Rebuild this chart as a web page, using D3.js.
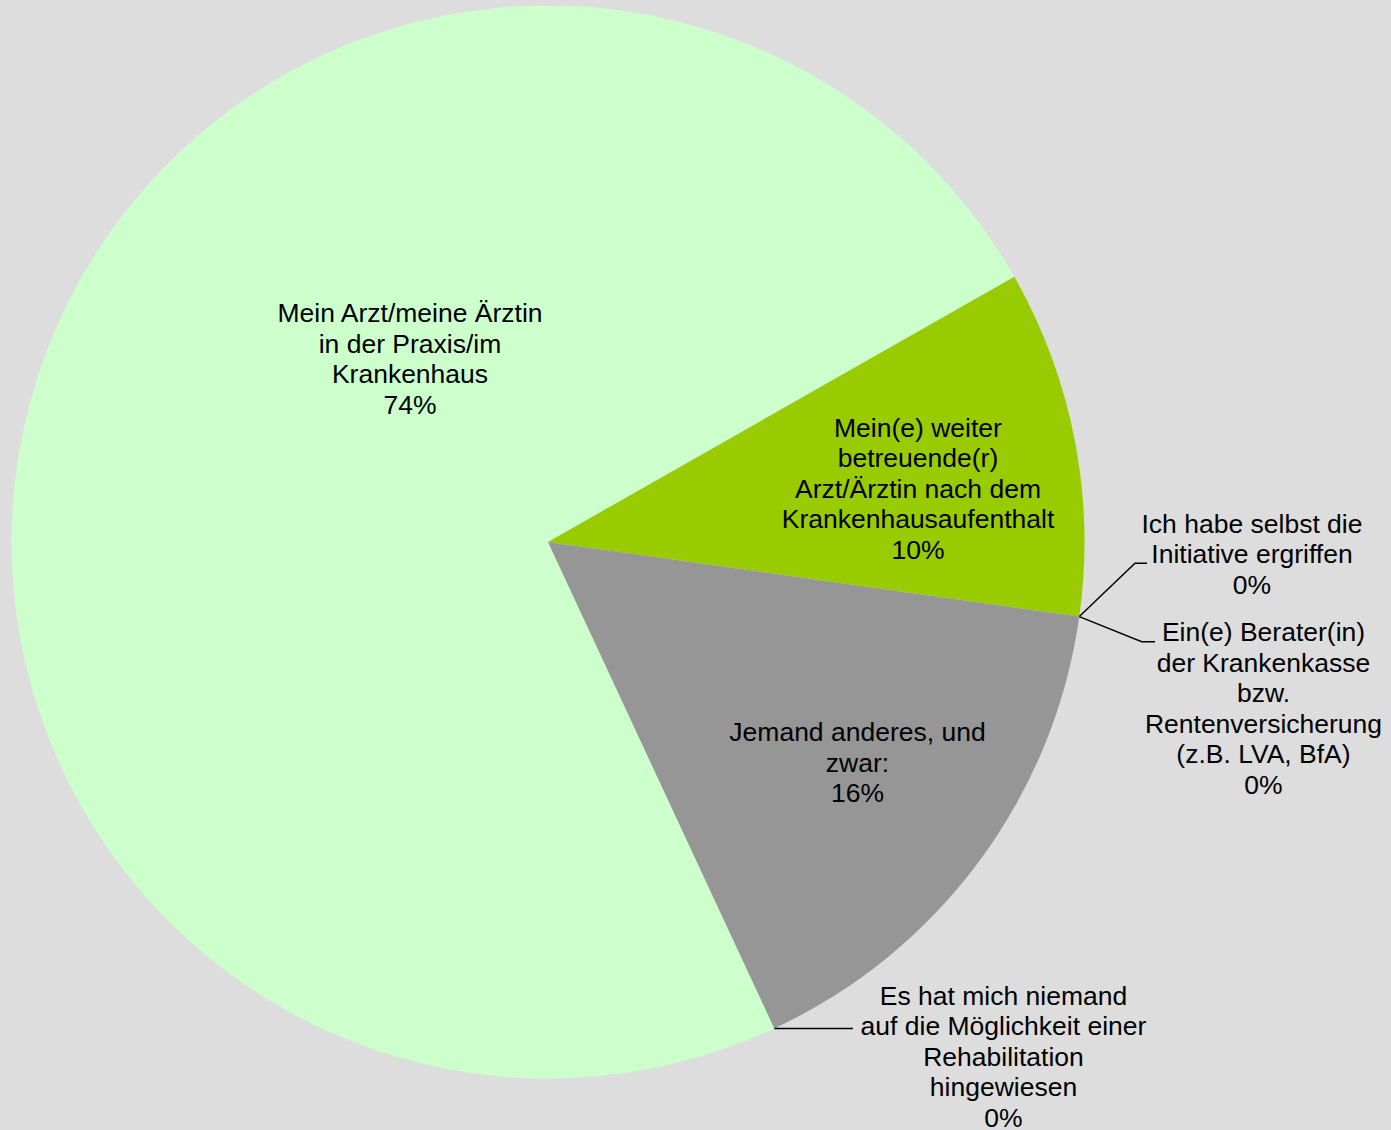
<!DOCTYPE html>
<html>
<head>
<meta charset="utf-8">
<script src="https://cdn.jsdelivr.net/npm/d3@7"></script>
<style>
  html, body { margin: 0; padding: 0; background: #dddddd; }
  svg { display: block; }
</style>
</head>
<body>
<script>
// ---- data ----
const categories = [
  "Mein Arzt/meine Ärztin in der Praxis/im Krankenhaus",
  "Mein(e) weiter betreuende(r) Arzt/Ärztin nach dem Krankenhausaufenthalt",
  "Ich habe selbst die Initiative ergriffen",
  "Ein(e) Berater(in) der Krankenkasse bzw. Rentenversicherung (z.B. LVA, BfA)",
  "Jemand anderes, und zwar:",
  "Es hat mich niemand auf die Möglichkeit einer Rehabilitation hingewiesen"
];
const values = [73.7, 10.45, 0, 0, 15.85, 0];
const labelLines = [
  ["Mein Arzt/meine Ärztin", "in der Praxis/im", "Krankenhaus"],
  ["Mein(e) weiter", "betreuende(r)", "Arzt/Ärztin nach dem", "Krankenhausaufenthalt"],
  ["Ich habe selbst die", "Initiative ergriffen"],
  ["Ein(e) Berater(in)", "der Krankenkasse", "bzw.", "Rentenversicherung", "(z.B. LVA, BfA)"],
  ["Jemand anderes, und", "zwar:"],
  ["Es hat mich niemand", "auf die Möglichkeit einer", "Rehabilitation", "hingewiesen"]
];
const colors = ["#ccffcc", "#99cc00", "#99cc00", "#969696", "#969696", "#ccffcc"];

// ---- layout ----
const W = 1391, H = 1130;
const cx = 548, cy = 542, R = 536.5;
const startDeg = 155.05;
const fontSize = 26.5, lineH = 30.5;
// label anchor: x center, first baseline; leader: elbow + end (null if inside)
const labelLayout = [
  { x: 410,    y: 322,   leader: null },
  { x: 918,    y: 436.5, leader: null },
  { x: 1252,   y: 532.5, leader: [[1135, 563.3], [1147, 563.3]] },
  { x: 1263.5, y: 641,   leader: [[1141.7, 641.7], [1155, 641.7]] },
  { x: 857.5,  y: 741,   leader: null },
  { x: 1003.5, y: 1004.5, leader: [[853, 1028.5]] }
];

const svg = d3.select("body").append("svg")
  .attr("width", W).attr("height", H);

svg.append("rect").attr("width", W).attr("height", H).attr("fill", "#dddddd");

const total = d3.sum(values);
const start = startDeg * Math.PI / 180;
const pie = d3.pie().sort(null).value(d => d)
  .startAngle(start).endAngle(start + 2 * Math.PI);
const arcs = pie(values);
const arc = d3.arc().innerRadius(0).outerRadius(R);

const g = svg.append("g").attr("transform", `translate(${cx},${cy})`);
g.selectAll("path.slice").data(arcs.filter(a => a.value > 0)).enter()
  .append("path").attr("class", "slice")
  .attr("d", arc)
  .attr("fill", d => colors[d.index]);

// leaders
arcs.forEach((a, i) => {
  const L = labelLayout[i];
  if (!L.leader) return;
  const ang = (a.startAngle + a.endAngle) / 2;
  const p0 = [cx + R * Math.sin(ang), cy - R * Math.cos(ang)];
  const pts = [p0].concat(L.leader);
  svg.append("path")
    .attr("d", d3.line()(pts))
    .attr("fill", "none").attr("stroke", "#000").attr("stroke-width", 1.5);
});

// labels
arcs.forEach((a, i) => {
  const L = labelLayout[i];
  const lines = labelLines[i].concat([Math.round(a.value / total * 100) + "%"]);
  const t = svg.append("text")
    .attr("text-anchor", "middle")
    .attr("font-family", "'Liberation Sans', Arial, sans-serif")
    .attr("font-size", fontSize)
    .attr("fill", "#000");
  lines.forEach((ln, k) => {
    t.append("tspan").attr("x", L.x).attr("y", L.y + k * lineH).text(ln);
  });
});
</script>
</body>
</html>
